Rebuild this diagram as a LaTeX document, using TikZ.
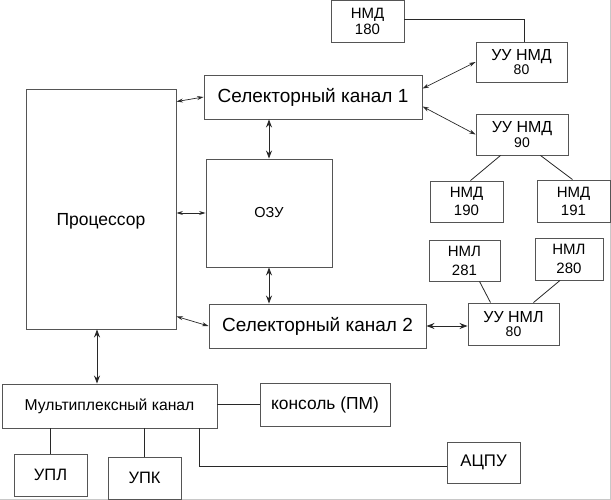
\documentclass[tikz,border=0pt]{standalone}
\usepackage{fontspec}
\setmainfont{Liberation Sans}
\usepackage{tikz}
\usetikzlibrary{arrows.meta, positioning, calc}
\usepackage{xcolor}
\definecolor{boxgray}{RGB}{85, 85, 85}
\definecolor{linegray}{RGB}{40, 40, 40}
\definecolor{framegray}{RGB}{200, 200, 200}

\newcommand{\fs}[2]{\fontsize{#1}{#2}\selectfont}

\begin{document}
\begin{tikzpicture}[
        x=1pt, y=-1pt,
        box/.style={draw=boxgray, line width=0.9pt, inner sep=0pt,
                    align=center, text=black},
        link/.style={<->, linegray, line width=0.7pt,
                     >={Stealth[length=6.5pt, width=4pt]}},
        biglink/.style={<->, linegray, line width=0.9pt,
                        >={Stealth[length=8pt, width=6pt]}},
        wire/.style={linegray, line width=0.8pt}
      ]
        \useasboundingbox (0,0) rectangle (611,500);

        % Image frame
        \draw[framegray, line width=0.8pt] (610.5,0) -- (610.5,499.5) -- (0,499.5);

        % Processor, memory and selector channels
        \node[box, minimum width=150pt, minimum height=240pt, font=\fs{17.5}{18}]
              (proc) at (101,209) {\raisebox{-17pt}[0pt][0pt]{Процессор}};
        \node[box, minimum width=218pt, minimum height=44pt, font=\fs{19}{20}]
              (sk1) at (313,97) {Селекторный канал 1};
        \node[box, minimum width=126pt, minimum height=108pt, font=\fs{14.5}{15}]
              (ozu) at (269,213) {ОЗУ};
        \node[box, minimum width=217pt, minimum height=44pt, font=\fs{19}{20}]
              (sk2) at (317.5,326) {Селекторный канал 2};

        % Disk units
        \node[box, minimum width=73pt, minimum height=42pt, font=\fs{15}{16}]
              (nmd180) at (367.5,21.5) {НМД\\180};
        \node[box, minimum width=91pt, minimum height=40pt, font=\fs{16}{14.5}]
              (uunmd80) at (521.5,62) {УУ НМД\\\fs{14}{14.5}80};
        \node[box, minimum width=92pt, minimum height=41pt, font=\fs{16}{14.5}]
              (uunmd90) at (522,134.5) {УУ НМД\\\fs{14}{14.5}90};
        \node[box, minimum width=73pt, minimum height=41pt, font=\fs{15}{18}]
              (nmd190) at (466.5,201.5) {НМД\\190};
        \node[box, minimum width=73pt, minimum height=42pt, font=\fs{15}{18}]
              (nmd191) at (573.5,201) {НМД\\191};

        % Tape units
        \node[box, minimum width=71pt, minimum height=41pt, font=\fs{15}{19}]
              (nml281) at (464.5,260.5) {НМЛ\\281};
        \node[box, minimum width=68pt, minimum height=42pt, font=\fs{15}{19}]
              (nml280) at (569,259) {НМЛ\\280};
        \node[box, minimum width=91pt, minimum height=42pt, font=\fs{16}{14.5}]
              (uunml80) at (513.5,324) {УУ НМЛ\\\fs{14}{14.5}80};

        % Multiplex channel and its devices
        \node[box, minimum width=215pt, minimum height=44pt, font=\fs{15.7}{17}]
              (mux) at (109.5,406) {Мультиплексный канал};
        \node[box, minimum width=130pt, minimum height=43pt, font=\fs{17.4}{18}]
              (cons) at (325,404.5) {консоль (ПМ)};
        \node[box, minimum width=73pt, minimum height=42pt, font=\fs{16.5}{18}]
              (upl) at (50.5,475) {УПЛ};
        \node[box, minimum width=73pt, minimum height=42pt, font=\fs{16.5}{18}]
              (upk) at (144.5,478) {УПК};
        \node[box, minimum width=73pt, minimum height=41pt, font=\fs{16.8}{18}]
              (acpu) at (483.5,462.5) {АЦПУ};

        % Links around the processor
        \draw[link] ([yshift=-13pt]proc.north east) -- (sk1.west);
        \draw[link] (proc.east |- ozu.west) -- (ozu.west);
        \draw[link] ([yshift=13pt]proc.south east) -- (sk2.west);
        \draw[biglink] (ozu.north |- sk1.south) -- (ozu.north);
        \draw[biglink] (ozu.south) -- (ozu.south |- sk2.north);
        \draw[biglink] ([xshift=-4pt]proc.south) -- ([xshift=-4pt]proc.south |- mux.north);

        % Selector channel 1 side
        \draw[link] ([yshift=-14pt]sk1.north east) -- (uunmd80.west);
        \draw[link] ([yshift=13pt]sk1.south east) -- (uunmd90.west);
        \draw[wire] ([yshift=2pt]nmd180.east) -| ([xshift=2.5pt]uunmd80.north);
        \draw[wire] ([xshift=25pt]uunmd90.south west) -- ([xshift=4pt]nmd190.north);
        \draw[wire] ([xshift=-28pt]uunmd90.south east) -- ([xshift=-1pt]nmd191.north);

        % Selector channel 2 side
        \draw[biglink] (sk2.east) -- (sk2.east -| uunml80.west);
        \draw[wire] ([xshift=15pt]nml281.south) -- ([xshift=-23pt]uunml80.north);
        \draw[wire] ([xshift=-9pt]nml280.south) -- ([xshift=20pt]uunml80.north);

        % Multiplex channel side
        \draw[wire] (cons.west -| mux.east) -- (cons.west);
        \draw[wire] (upl.north |- mux.south) -- (upl.north);
        \draw[wire] (upk.north |- mux.south) -- (upk.north);
        \draw[wire] ([xshift=-18pt]mux.south east) |- ([yshift=-4pt]acpu.west);
      \end{tikzpicture}
\end{document}
